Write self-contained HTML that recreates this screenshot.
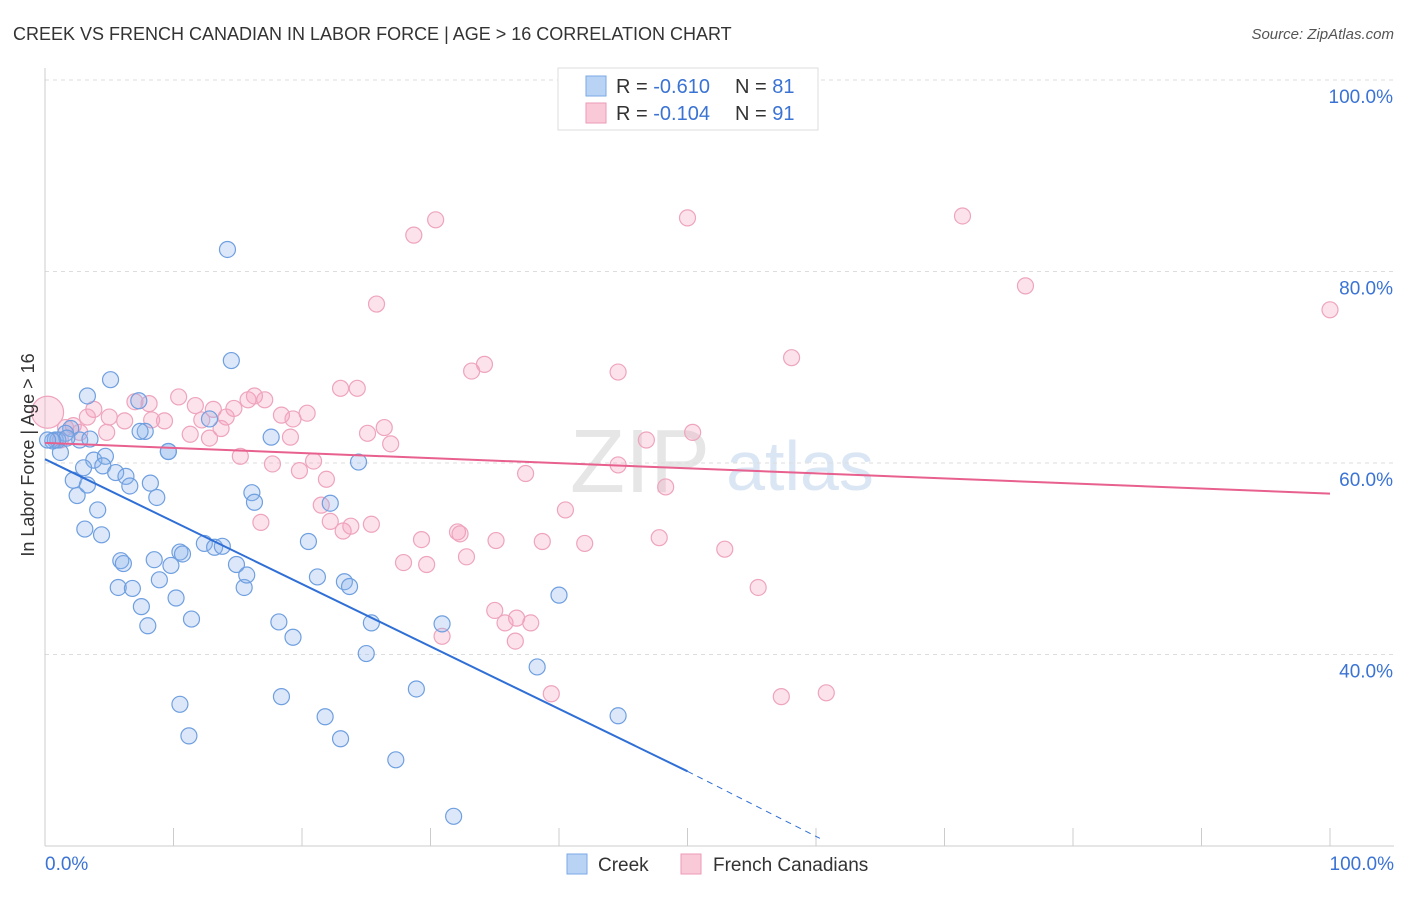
<!DOCTYPE html>
<html><head><meta charset="utf-8"><style>
body{margin:0;background:#fff;font-family:"Liberation Sans",sans-serif;}
svg text{font-family:"Liberation Sans",sans-serif;}
</style></head><body>
<svg id="chart" width="1406" height="892">
<text x="13" y="40" font-size="18" fill="#333">CREEK VS FRENCH CANADIAN IN LABOR FORCE | AGE &gt; 16 CORRELATION CHART</text>
<text x="1394" y="39" font-size="15" fill="#555" font-style="italic" text-anchor="end">Source: ZipAtlas.com</text>
<text x="640" y="492" font-size="90" fill="#e6e6e6" font-family="Liberation Serif" text-anchor="middle">ZIP</text>
<text x="800" y="490" font-size="70" fill="#dbe6f5" text-anchor="middle">atlas</text>
<g id="grid"></g>
<g id="axes"></g>
<g id="marks"></g>
<text transform="translate(34,455) rotate(-90)" font-size="18" fill="#333" text-anchor="middle">In Labor Force | Age &gt; 16</text>
<g>
<rect x="558" y="68" width="260" height="62" fill="#fff" stroke="#ddd"/>
<rect x="586" y="76" width="20" height="20" fill="#b9d3f5" stroke="#7aa8e6"/>
<rect x="586" y="103" width="20" height="20" fill="#f9c9d8" stroke="#ec9ab6"/>
<text x="616" y="93" font-size="20" fill="#333">R = <tspan fill="#3a73d4">-0.610</tspan></text>
<text x="735" y="93" font-size="20" fill="#333">N = <tspan fill="#3a73d4">81</tspan></text>
<text x="616" y="120" font-size="20" fill="#333">R = <tspan fill="#3a73d4">-0.104</tspan></text>
<text x="735" y="120" font-size="20" fill="#333">N = <tspan fill="#3a73d4">91</tspan></text>
</g>
<g>
<rect x="567" y="854" width="20" height="20" fill="#b9d3f5" stroke="#7aa8e6"/>
<text x="598" y="871" font-size="19" fill="#333">Creek</text>
<rect x="681" y="854" width="20" height="20" fill="#f9c9d8" stroke="#ec9ab6"/>
<text x="713" y="871" font-size="19" fill="#333">French Canadians</text>
</g>
</svg>
<script>
const yTicks=[40,60,80,100];
const xTickLabels=["0.0%","100.0%"];
const creekX=[14.2,14.5,5.1,3.3,7.3,7.8,12.8,9.6,17.6,24.4,0.8,1.2,2.0,2.7,3.8,4.7,3.0,4.5,5.5,6.3,6.6,8.2,8.7,2.2,2.5,3.3,4.1,3.1,4.4,5.9,6.1,8.5,10.5,10.7,12.4,13.2,13.8,9.8,8.9,10.2,5.7,6.8,7.5,8.0,11.4,14.9,15.5,15.7,16.1,16.3,20.5,21.2,22.2,23.3,23.7,25.4,25.0,18.2,19.3,18.4,21.8,23.0,27.3,28.9,30.9,31.8,38.3,40.0,44.6,10.5,11.2,1.6,7.4,9.6,1.0,3.5,1.7,0.6,0.2];
const creekY=[82.3,70.7,68.7,67.0,66.5,63.3,64.6,61.2,62.7,60.1,62.4,61.1,63.6,62.4,60.3,60.7,59.5,59.7,59.0,58.6,57.6,57.9,56.4,58.2,56.6,57.7,55.1,53.1,52.5,49.8,49.5,49.9,50.7,50.5,51.6,51.2,51.3,49.3,47.8,45.9,47.0,46.9,45.0,43.0,43.7,49.4,47.0,48.3,56.9,55.9,51.8,48.1,55.8,47.6,47.1,43.3,40.1,43.4,41.8,35.6,33.5,31.2,29.0,36.4,43.2,23.1,38.7,46.2,33.6,34.8,31.5,63.1,63.3,61.2,62.4,62.5,62.6,62.3,62.4];
const frX=[0.2,30.4,50.0,71.4,76.3,100.0,28.7,25.8,58.1,34.2,33.2,44.6,23.0,24.3,10.4,8.1,7.0,3.8,5.0,3.3,6.2,8.3,9.3,11.7,13.1,14.1,14.7,15.8,16.3,17.1,18.4,19.3,20.4,12.2,13.7,11.3,12.8,4.8,2.2,19.1,25.1,26.4,26.9,46.8,50.4,15.2,17.7,19.8,20.9,21.9,37.4,44.6,48.3,16.8,21.5,22.2,23.2,23.8,25.4,32.1,32.3,35.1,38.7,42.0,40.5,47.8,52.9,29.3,29.7,27.9,32.8,55.5,57.3,60.8,35.0,35.8,36.7,37.8,36.6,30.9,39.4,1.6,2.7,1.2];
const frY=[65.3,85.4,85.6,85.8,78.5,76.0,83.8,76.6,71.0,70.3,69.6,69.5,67.8,67.8,66.9,66.2,66.4,65.6,64.8,64.8,64.4,64.5,64.4,66.0,65.6,64.8,65.7,66.6,67.0,66.6,65.0,64.6,65.2,64.5,63.6,63.0,62.6,63.2,63.9,62.7,63.1,63.7,62.0,62.4,63.2,60.7,59.9,59.2,60.2,58.3,58.9,59.8,57.5,53.8,55.6,53.9,52.9,53.4,53.6,52.8,52.6,51.9,51.8,51.6,55.1,52.2,51.0,52.0,49.4,49.6,50.2,47.0,35.6,36.0,44.6,43.3,43.8,43.3,41.4,41.9,35.9,63.7,63.2,62.4];
const X0=45,X1=1330,Y100=80,PXPER=9.575;
function sx(v){return X0+(X1-X0)*v/100;}
function sy(v){return Y100+(100-v)*PXPER;}
const NS="http://www.w3.org/2000/svg";
function mk(t,a,p){const e=document.createElementNS(NS,t);for(const k in a)e.setAttribute(k,a[k]);p.appendChild(e);return e;}
const grid=document.getElementById('grid'),axes=document.getElementById('axes'),marks=document.getElementById('marks');
yTicks.forEach(t=>{
 const l=mk('line',{x1:45,x2:1394,y1:sy(t),y2:sy(t),stroke:'#ddd','stroke-dasharray':'4,4'},grid);
 
 
 const tx=mk('text',{x:1393,y:sy(t)+23,'font-size':19,fill:'#3a73d4','text-anchor':'end'},axes);
 tx.textContent=t.toFixed(1)+'%';
 
 
});
mk('line',{x1:45,x2:45,y1:68,y2:846,stroke:'#ccc'},axes);
mk('line',{x1:45,x2:1394,y1:846,y2:846,stroke:'#ccc'},axes);
for(let i=1;i<=10;i++){mk('line',{x1:sx(i*10),x2:sx(i*10),y1:828,y2:846,stroke:'#ccc'},axes);}
[[45,'start'],[1394,'end']].forEach((p,i)=>{const t=mk('text',{x:p[0],y:870,'font-size':19,fill:'#3a73d4','text-anchor':p[1]},axes);t.textContent=xTickLabels[i];

});
function pts(xs,ys,fill,stroke,name){xs.forEach((x,i)=>{const c=mk('circle',{cx:sx(x),cy:sy(ys[i]),r:(name==='french'&&i===0)?16:8,fill:fill,stroke:stroke,'stroke-width':1.2},marks);

});}
pts(frX,frY,'rgba(244,160,190,0.3)','#eea4bd','french');
pts(creekX,creekY,'rgba(140,180,235,0.3)','#6f9fe0','creek');
const l1=mk('line',{x1:sx(0),y1:sy(60.4),x2:sx(50),y2:sy(27.8),stroke:'#2f6fd6','stroke-width':2},marks);


mk('line',{x1:sx(50),y1:sy(27.8),x2:sx(60.3),y2:sy(20.8),stroke:'#2f6fd6','stroke-width':1,'stroke-dasharray':'6,5'},marks);
const l2=mk('line',{x1:sx(0),y1:sy(62.1),x2:sx(100),y2:sy(56.8),stroke:'#e8608e','stroke-width':2},marks);


</script>
</body></html>
